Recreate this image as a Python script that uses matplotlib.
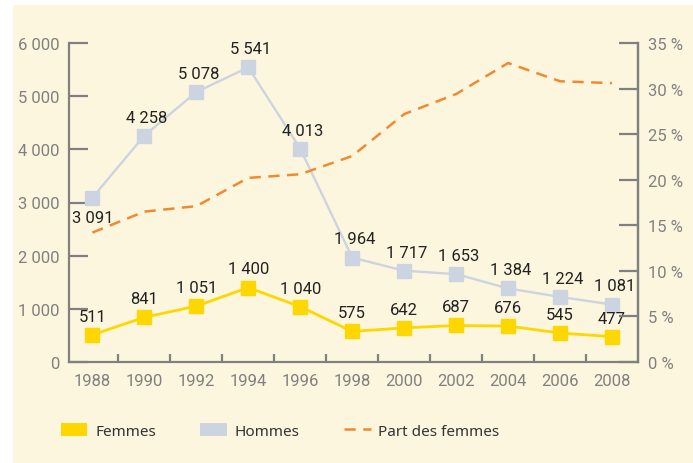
import matplotlib.pyplot as plt
from matplotlib.patches import Rectangle
from matplotlib.lines import Line2D

annees = [1988, 1990, 1992, 1994, 1996, 1998, 2000, 2002, 2004, 2006, 2008]
hommes = [3091, 4258, 5078, 5541, 4013, 1964, 1717, 1653, 1384, 1224, 1081]
femmes = [511, 841, 1051, 1400, 1040, 575, 642, 687, 676, 545, 477]
part_femmes = [14.2, 16.5, 17.1, 20.2, 20.6, 22.6, 27.2, 29.4, 32.8, 30.8, 30.6]

fond = '#fdf6de'
gris = '#808080'
jaune = '#ffd700'
bleu = '#ccd4e1'
orange = '#f08a30'

def fmt(v):
    return '{:,}'.format(v).replace(',', ' ')

plt.rcParams['font.family'] = ['Roboto', 'DejaVu Sans']

fig = plt.figure(figsize=(6.93, 4.64), dpi=100)
fig.patch.set_facecolor('white')
fig.patches.append(Rectangle((13 / 693, 0), 1, 1 - 6 / 464, transform=fig.transFigure,
                             facecolor=fond, edgecolor='none', zorder=-10))

ax = fig.add_axes([69 / 693, 1 - 363 / 464, (638 - 69) / 693, (363 - 44) / 464])
ax.set_facecolor('none')
ax2 = ax.twinx()

ax.plot(annees, hommes, color=bleu, lw=1.7, marker='s', ms=10.5, mfc=bleu, mec=bleu, zorder=3)
ax.plot(annees, femmes, color=jaune, lw=2, marker='s', ms=10.5, mfc=jaune, mec=jaune, zorder=3)
ax2.plot(annees, part_femmes, color=orange, lw=1.8, ls=(0, (4.5, 3)), zorder=2)

for x, v in zip(annees, hommes):
    if x == 1988:
        ax.annotate(fmt(v), (x, v), xytext=(0, -9), textcoords='offset points',
                    ha='center', va='top', fontsize=12, color='#222222')
    else:
        ax.annotate(fmt(v), (x, v), xytext=(2, 8), textcoords='offset points',
                    ha='center', va='bottom', fontsize=12, color='#222222')
for x, v in zip(annees, femmes):
    ax.annotate(fmt(v), (x, v), xytext=(0, 8), textcoords='offset points',
                ha='center', va='bottom', fontsize=12, color='#222222')

ax.set_xlim(1987.1, 2009)
ax.set_ylim(0, 6000)
ax2.set_ylim(0, 35)

ax.set_xticks(annees)
ax.set_xticklabels([str(a) for a in annees])
ax.set_xticks(range(1989, 2009, 2), minor=True)
ax.set_yticks(range(0, 6001, 1000))
ax.set_yticklabels([fmt(v) for v in range(0, 6001, 1000)])
ax2.set_yticks(range(0, 36, 5))
ax2.set_yticklabels(['{} %'.format(v) for v in range(0, 36, 5)])

for a in (ax, ax2):
    for s in a.spines.values():
        s.set_color(gris)
        s.set_linewidth(1.6)
    a.spines['top'].set_visible(False)
ax2.spines['left'].set_visible(False)
ax2.spines['bottom'].set_visible(False)

ax.tick_params(axis='x', which='major', length=0, pad=8, labelsize=12, labelcolor=gris)
ax.tick_params(axis='x', which='minor', direction='in', length=6, width=1.6, color=gris)
ax.tick_params(axis='y', direction='in', length=14, width=1.6, color=gris,
               labelsize=12, labelcolor=gris, pad=7)
ax2.tick_params(axis='y', direction='in', length=14, width=1.6, color=gris,
                labelsize=12, labelcolor=gris, pad=7)

handles = [Rectangle((0, 0), 1, 1, facecolor=jaune, edgecolor='none'),
           Rectangle((0, 0), 1, 1, facecolor=bleu, edgecolor='none'),
           Line2D([], [], color=orange, lw=1.8, ls=(0, (4.5, 3)))]
leg = fig.legend(handles, ['Femmes', 'Hommes', 'Part des femmes'], loc='center left',
                 bbox_to_anchor=(47 / 693, 1 - 432 / 464), ncol=3, frameon=False,
                 handlelength=1.75, handleheight=0.9, columnspacing=2.9,
                 handletextpad=0.5, prop={'family': ['Noto Sans'], 'size': 11})
for t in leg.get_texts():
    t.set_color('#333333')

fig.savefig('out.png', dpi=100, facecolor=fig.get_facecolor())
